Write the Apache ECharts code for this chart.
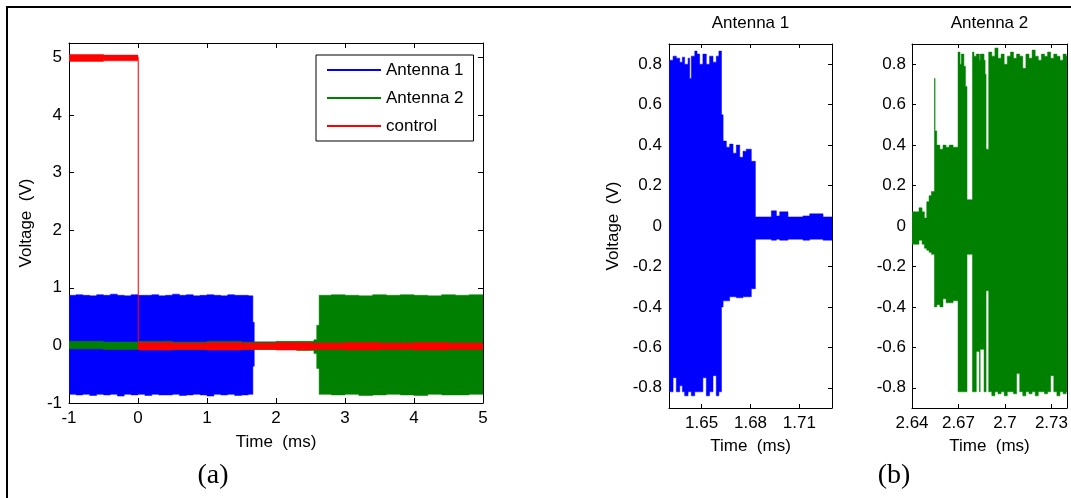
<!DOCTYPE html>
<html><head><meta charset="utf-8">
<script src="https://cdn.jsdelivr.net/npm/echarts@6/dist/echarts.min.js"></script>
<style>html,body{margin:0;padding:0;background:#fff}#c{width:1071px;height:498px}</style>
</head><body><div id="c"></div>
<script>
// ---------- Panel (a): full record, envelopes of the oscillating signals ----------
// segment boundaries (ms), upper and lower envelope (V) of each segment
const a1Time = [-1.0,-0.9,-0.8,-0.7,-0.6,-0.5,-0.4,-0.3,-0.2,-0.1,0.0,0.1,0.2,0.3,0.4,0.5,0.6,0.7,0.8,0.9,1.0,1.1,1.2,1.3,1.4,1.5,1.6,1.665,1.685,5.0];
const a1Hi = [0.87,0.88,0.87,0.86,0.88,0.87,0.89,0.87,0.86,0.88,0.87,0.87,0.88,0.86,0.87,0.89,0.87,0.88,0.86,0.87,0.88,0.87,0.86,0.88,0.87,0.87,0.86,0.40,0.06];
const a1Lo = [-0.85,-0.86,-0.85,-0.87,-0.85,-0.86,-0.85,-0.88,-0.85,-0.86,-0.85,-0.87,-0.85,-0.86,-0.86,-0.85,-0.87,-0.86,-0.85,-0.86,-0.88,-0.85,-0.86,-0.85,-0.87,-0.86,-0.85,-0.36,-0.06];

const a2Time = [-1.0,-0.5,0.0,0.5,1.0,1.5,2.0,2.3,2.55,2.59,2.625,2.8,3.0,3.2,3.4,3.6,3.8,4.0,4.2,4.4,4.6,4.8,5.0];
const a2Hi = [0.07,0.06,0.07,0.06,0.07,0.06,0.07,0.07,0.10,0.35,0.87,0.88,0.87,0.86,0.88,0.87,0.88,0.87,0.86,0.88,0.87,0.88];
const a2Lo = [-0.06,-0.07,-0.06,-0.07,-0.06,-0.07,-0.07,-0.09,-0.14,-0.40,-0.85,-0.86,-0.85,-0.87,-0.86,-0.85,-0.86,-0.87,-0.85,-0.86,-0.86,-0.85];

const ctrlTime = [-1.0,-0.5,0.0,0.006,0.5,1.0,1.5,2.0,2.5,3.0,3.5,4.0,4.5,5.0];
const ctrlHi = [5.05,5.04,5.00,0.05,0.04,0.05,0.04,0.05,0.04,0.05,0.04,0.05,0.04];
const ctrlLo = [4.93,4.94,-0.05,-0.08,-0.07,-0.08,-0.07,-0.08,-0.07,-0.08,-0.07,-0.08,-0.07];

// ---------- Panel (b): zoom on Antenna 1 switch-off ----------
const z1Time = [1.630,1.6325,1.6345,1.6366,1.6382,1.6396,1.6417,1.6427,1.6437,1.6458,1.6472,1.6488,1.6508,1.6529,1.6549,1.6570,1.6590,1.6606,1.6622,1.6632,1.6652,1.6672,1.6693,1.6713,1.6734,1.6754,1.6774,1.6805,1.683,1.6928,1.6959,1.6979,1.703,1.7122,1.7163,1.7245,1.73];
const z1Hi = [0.82,0.84,0.83,0.81,0.835,0.80,0.83,0.73,0.84,0.865,0.85,0.80,0.85,0.80,0.84,0.81,0.84,0.865,0.55,0.42,0.39,0.405,0.36,0.40,0.34,0.37,0.38,0.32,0.045,0.075,0.05,0.07,0.045,0.05,0.06,0.045];
const z1Lo = [-0.82,-0.75,-0.82,-0.79,-0.82,-0.84,-0.82,-0.82,-0.84,-0.82,-0.82,-0.82,-0.75,-0.84,-0.82,-0.74,-0.84,-0.82,-0.40,-0.37,-0.37,-0.35,-0.35,-0.355,-0.355,-0.35,-0.35,-0.31,-0.065,-0.07,-0.065,-0.07,-0.065,-0.07,-0.065,-0.07];

// ---------- Panel (b): zoom on Antenna 2 switch-on ----------
const z2Time = [2.6400,2.6445,2.6465,2.6480,2.6495,2.6510,2.6525,2.6545,2.6549,2.6560,2.6580,2.6600,2.6620,2.6640,2.6665,2.6697,2.6710,2.6718,2.6735,2.6745,2.6755,2.6790,2.6800,2.6815,2.6835,2.6840,2.6865,2.6872,2.6878,
  2.6895,2.6915,2.6935,2.6955,2.6975,2.6995,2.7015,2.7035,2.7055,2.7075,2.7095,2.7115,2.7135,2.7155,2.7175,2.7195,2.7215,2.7235,2.7255,2.7275,2.7295,2.7315,2.7335,2.7355,2.7375,2.7395,2.74];
const z2Hi = [0.07,0.09,0.07,0.04,0.12,0.15,0.17,0.73,0.47,0.40,0.38,0.40,0.39,0.40,0.39,0.86,0.80,0.85,0.79,0.69,0.13,0.86,0.84,0.85,0.82,0.85,0.82,0.75,0.38,
  0.86,0.84,0.88,0.83,0.85,0.80,0.84,0.86,0.83,0.85,0.84,0.78,0.85,0.83,0.87,0.84,0.82,0.85,0.84,0.86,0.83,0.85,0.84,0.82,0.85,0.84];
const z2Lo = [-0.09,-0.07,-0.09,-0.11,-0.12,-0.13,-0.14,-0.40,-0.40,-0.39,-0.40,-0.36,-0.38,-0.38,-0.37,-0.82,-0.82,-0.82,-0.82,-0.82,-0.14,-0.82,-0.82,-0.62,-0.82,-0.61,-0.82,-0.82,-0.32,
  -0.82,-0.84,-0.82,-0.83,-0.82,-0.84,-0.82,-0.82,-0.83,-0.73,-0.82,-0.84,-0.82,-0.83,-0.82,-0.84,-0.82,-0.82,-0.83,-0.82,-0.74,-0.82,-0.84,-0.82,-0.83,-0.82];

// ---------- tick values ----------
const aTimeTicks = [-1,0,1,2,3,4,5];
const aVoltTicks = [-1,0,1,2,3,4,5];
const z1TimeTicks = [1.65,1.68,1.71];
const z2TimeTicks = [2.64,2.67,2.70,2.73];
const zVoltTicks = [-0.8,-0.6,-0.4,-0.2,0,0.2,0.4,0.6,0.8];

const BLUE = '#0000ff', GREEN = '#008000', RED = '#ff0000';
const FONT = '"Liberation Sans", Arial, sans-serif';
const fmt = v => String(parseFloat((+v).toFixed(2)));

function segs(t, hi, lo) { return hi.map((h, i) => [t[i], t[i + 1], lo[i], h]); }

// one filled step-envelope polygon per trace, mapped through the axes
function band(name, color, xi, yi, data) {
  return {
    type: 'custom', name, xAxisIndex: xi, yAxisIndex: yi, clip: true, silent: true,
    itemStyle: { color }, encode: { x: [0, 1], y: [2, 3] }, data,
    renderItem: (params, api) => {
      if (params.dataIndex !== 0) return null;
      const up = [], dn = [];
      data.forEach(d => {
        up.push(api.coord([d[0], d[3]]), api.coord([d[1], d[3]]));
        dn.push(api.coord([d[0], d[2]]), api.coord([d[1], d[2]]));
      });
      return { type: 'polygon', shape: { points: up.concat(dn.reverse()) },
        style: { fill: color, stroke: color, lineWidth: 0.5 } };
    }
  };
}

function ax(gi, pos, min, max, ticks, tickLen, showLabel, margin, extra) {
  return Object.assign({
    type: 'value', gridIndex: gi, position: pos, min, max,
    axisLine: { show: true, onZero: false, lineStyle: { color: '#000', width: 1 } },
    axisTick: { show: true, inside: true, length: tickLen, customValues: ticks, lineStyle: { color: '#000', width: 1 } },
    axisLabel: { show: showLabel, customValues: ticks, margin, formatter: fmt, color: '#000', fontSize: 17, fontFamily: FONT },
    splitLine: { show: false },
    nameTextStyle: { color: '#000', fontSize: 17, fontFamily: FONT }
  }, extra || {});
}

const option = {
  animation: false,
  backgroundColor: '#fff',
  grid: [
    { left: 69, top: 43, width: 414, height: 360 },
    { left: 669, top: 44, width: 163, height: 364 },
    { left: 912, top: 44, width: 163, height: 364 }
  ],
  xAxis: [
    ax(0, 'bottom', -1, 5, aTimeTicks, 5, true, 7, { name: 'Time  (ms)', nameLocation: 'middle', nameGap: 31 }),
    ax(0, 'top', -1, 5, aTimeTicks, 5, false, 7),
    ax(1, 'bottom', 1.63, 1.73, z1TimeTicks, 4, true, 7, { name: 'Time  (ms)', nameLocation: 'middle', nameGap: 30 }),
    ax(1, 'top', 1.63, 1.73, z1TimeTicks, 4, false, 7, { name: 'Antenna 1', nameLocation: 'middle', nameGap: 12 }),
    ax(2, 'bottom', 2.64, 2.74, z2TimeTicks, 4, true, 7, { name: 'Time  (ms)', nameLocation: 'middle', nameGap: 30 }),
    ax(2, 'top', 2.64, 2.74, z2TimeTicks, 4, false, 7, { name: 'Antenna 2', nameLocation: 'middle', nameGap: 12 })
  ],
  yAxis: [
    ax(0, 'left', -1, 5.25, aVoltTicks, 5, true, 7, { name: 'Voltage  (V)', nameLocation: 'middle', nameGap: 34 }),
    ax(0, 'right', -1, 5.25, aVoltTicks, 5, false, 7),
    ax(1, 'left', -0.9, 0.9, zVoltTicks, 4, true, 7, { name: 'Voltage  (V)', nameLocation: 'middle', nameGap: 47 }),
    ax(1, 'right', -0.9, 0.9, zVoltTicks, 4, false, 7),
    ax(2, 'left', -0.9, 0.9, zVoltTicks, 4, true, 6),
    ax(2, 'right', -0.9, 0.9, zVoltTicks, 4, false, 6)
  ],
  legend: {
    left: 316, top: 55, orient: 'vertical', selectedMode: false,
    data: [{ name: 'Antenna 1', icon: 'rect' }, { name: 'Antenna 2', icon: 'rect' }, { name: 'control', icon: 'rect' }],
    itemWidth: 54, itemHeight: 2, itemGap: 8, padding: [5, 10, 5, 11],
    borderColor: '#000', borderWidth: 1, backgroundColor: '#fff',
    textStyle: { color: '#000', fontSize: 17, fontFamily: FONT, lineHeight: 20 }
  },
  graphic: [
    { type: 'rect', shape: { x: 7, y: 7, width: 1200, height: 700 }, style: { fill: 'none', stroke: '#000', lineWidth: 2 }, silent: true },
    { type: 'text', x: 213, y: 476, style: { text: '(a)', fill: '#000', font: '28px "Liberation Serif", "Times New Roman", serif', textAlign: 'center', textVerticalAlign: 'middle' }, silent: true },
    { type: 'text', x: 894, y: 476, style: { text: '(b)', fill: '#000', font: '28px "Liberation Serif", "Times New Roman", serif', textAlign: 'center', textVerticalAlign: 'middle' }, silent: true }
  ],
  series: [
    band('Antenna 1', BLUE, 0, 0, segs(a1Time, a1Hi, a1Lo)),
    band('Antenna 2', GREEN, 0, 0, segs(a2Time, a2Hi, a2Lo)),
    band('control', RED, 0, 0, segs(ctrlTime, ctrlHi, ctrlLo)),
    band('Antenna 1', BLUE, 2, 2, segs(z1Time, z1Hi, z1Lo)),
    band('Antenna 2', GREEN, 4, 4, segs(z2Time, z2Hi, z2Lo))
  ]
};

const chart = echarts.init(document.getElementById('c'), null, { renderer: 'canvas', width: 1071, height: 498 });
chart.setOption(option);
</script></body></html>
